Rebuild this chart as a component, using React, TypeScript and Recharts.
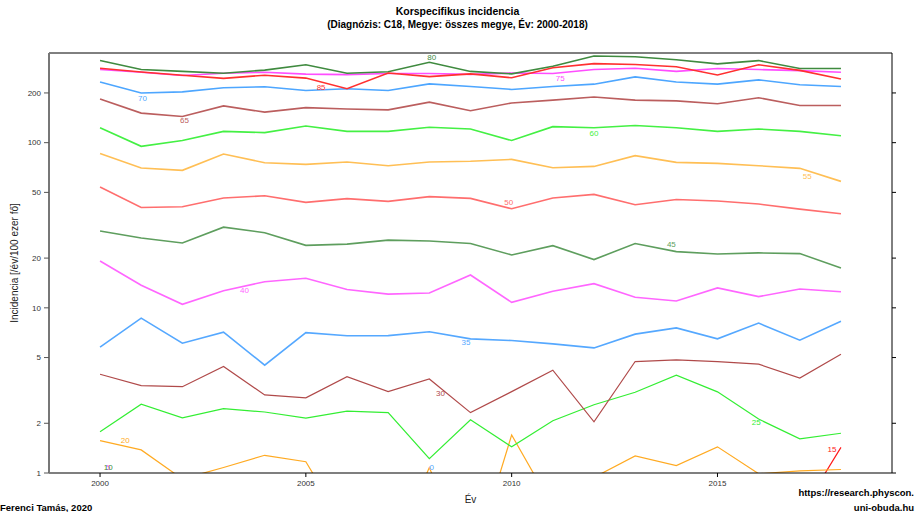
import React from 'react';
import { LineChart, Line, XAxis, YAxis, ReferenceDot } from 'recharts';

// Years shown on the x axis
const years = [2000, 2001, 2002, 2003, 2004, 2005, 2006, 2007, 2008, 2009, 2010, 2011, 2012, 2013, 2014, 2015, 2016, 2017, 2018];

// Incidence per age group (/year/100k)
const g0 = [0.08, 0.05, 0.06, 0.09, 0.05, 0.07, 0.06, 0.05, 0.08, 0.06, 0.07, 0.05, 0.06, 0.08, 0.05, 0.07, 0.06, 0.05, 0.06];
const g5 = [0.06, 0.08, 0.05, 0.07, 0.06, 0.09, 0.05, 0.07, 0.06, 0.08, 0.05, 0.06, 0.09, 0.05, 0.07, 0.06, 0.08, 0.07, 0.05];
const g10 = [0.18, 0.12, 0.15, 0.2, 0.14, 0.11, 0.17, 0.13, 0.16, 0.19, 0.12, 0.15, 0.18, 0.14, 0.16, 0.21, 0.13, 0.17, 0.15];
const g15 = [0.62, 0.48, 0.71, 0.55, 0.64, 0.42, 0.58, 0.69, 0.51, 0.47, 0.66, 0.73, 0.52, 0.61, 0.75, 0.57, 0.68, 0.56, 1.43];
const g20 = [1.57, 1.38, 0.92, 1.08, 1.28, 1.17, 0.45, 0.29, 1.08, 0.26, 1.7, 0.62, 0.94, 1.27, 1.11, 1.44, 0.99, 1.03, 1.05];
const g25 = [1.78, 2.61, 2.16, 2.45, 2.34, 2.15, 2.37, 2.32, 1.22, 2.1, 1.44, 2.07, 2.59, 3.08, 3.91, 3.1, 2.12, 1.61, 1.74];
const g30 = [3.96, 3.38, 3.33, 4.41, 2.97, 2.85, 3.83, 3.11, 3.71, 2.32, 3.11, 4.19, 2.04, 4.73, 4.84, 4.73, 4.56, 3.76, 5.24];
const g35 = [5.78, 8.66, 6.11, 7.12, 4.5, 7.08, 6.77, 6.79, 7.16, 6.49, 6.34, 6.05, 5.72, 6.93, 7.56, 6.49, 8.08, 6.37, 8.3];
const g40 = [19.2, 13.7, 10.5, 12.7, 14.4, 15.1, 12.9, 12.1, 12.3, 15.8, 10.8, 12.6, 14.0, 11.6, 11.0, 13.2, 11.7, 13.0, 12.5];
const g45 = [29.2, 26.5, 24.7, 30.8, 28.5, 23.9, 24.3, 25.7, 25.4, 24.5, 20.9, 23.8, 19.6, 24.5, 21.9, 21.2, 21.5, 21.3, 17.4];
const g50 = [53.9, 40.5, 40.9, 46.2, 47.7, 43.5, 45.8, 44.1, 47.1, 46.0, 39.8, 46.2, 48.6, 42.1, 45.3, 44.3, 42.5, 39.6, 37.1];
const g55 = [86.1, 70.3, 68.0, 85.4, 75.6, 73.9, 76.4, 72.5, 76.4, 77.1, 79.2, 70.5, 71.8, 83.4, 76.0, 74.9, 72.5, 69.9, 58.3];
const g60 = [123, 95, 103, 117, 115, 126, 117, 117, 124, 121, 103, 125, 123, 127, 123, 117, 121, 117, 110];
const g65 = [184, 151, 144, 167, 153, 163, 160, 158, 176, 156, 174, 181, 189, 181, 179, 172, 187, 168, 168];
const g70 = [233, 200, 203, 215, 218, 207, 212, 207, 227, 219, 210, 219, 226, 250, 233, 226, 240, 224, 219];
const g75 = [277, 267, 255, 263, 267, 260, 258, 262, 262, 259, 264, 262, 277, 282, 270, 281, 277, 273, 267];
const g80 = [314, 277, 270, 263, 275, 296, 263, 269, 307, 270, 261, 290, 335, 331, 318, 300, 314, 281, 281];
const g85 = [282, 268, 256, 245, 256, 246, 212, 264, 251, 261, 247, 284, 301, 297, 288, 257, 296, 274, 243];

const ageGroups = ['0', '5', '10', '15', '20', '25', '30', '35', '40', '45', '50', '55', '60', '65', '70', '75', '80', '85'];
const groupValues = [g0, g5, g10, g15, g20, g25, g30, g35, g40, g45, g50, g55, g60, g65, g70, g75, g80, g85];

// Where each group's direct label sits (year, incidence)
const labelYears = [2008.06, 2000.2, 2000.2, 2017.78, 2000.61, 2015.94, 2008.27, 2008.89, 2003.51, 2013.88, 2009.93, 2017.18, 2012.0, 2002.05, 2001.03, 2011.18, 2008.06, 2005.37];
const labelValues = [1.087, 1.087, 1.087, 1.397, 1.57, 2.01, 3.05, 6.17, 12.7, 24.2, 43.5, 62.4, 114, 136, 185, 246, 330, 216];

const yTicks = [1, 2, 5, 10, 20, 50, 100, 200];
const xTicks = [2000, 2005, 2010, 2015];

const colors = [
  '#4da6ff', '#ff55ff', '#3a8f3a', '#ff1a1a', '#ffaa22', '#33ee33', '#b04a4a',
  '#55a8ff', '#ff66ff', '#5e9e5e', '#ff6e6e', '#ffbf55', '#44f044', '#bb5e5e',
  '#4da6ff', '#ff4dff', '#3f8a3f', '#ff3030',
];

const data = years.map((year, i) => {
  const row: Record<string, number> = { year };
  ageGroups.forEach((g, k) => {
    row[`a${g}`] = groupValues[k][i];
  });
  return row;
});

const FONT = '"Liberation Sans", Arial, Helvetica, sans-serif';
const X_DOMAIN: [number, number] = [1998.76, 2019.24];
const Y_DOMAIN: [number, number] = [1, 349];

export default function App() {
  return (
    <div style={{ position: 'absolute', left: 0, top: 0, width: 915, height: 512, background: '#fff', fontFamily: FONT, overflow: 'hidden' }}>
      <LineChart width={915} height={512} data={data} margin={{ top: 0, right: 0, bottom: 0, left: 0 }}>
        <XAxis
          dataKey="year"
          type="number"
          domain={X_DOMAIN}
          allowDataOverflow
          ticks={xTicks}
          height={39}
          tickSize={4}
          tickMargin={3}
          axisLine={{ stroke: '#000', strokeWidth: 1.2 }}
          tickLine={{ stroke: '#000' }}
          tick={{ fontSize: 8, fill: '#333', fontFamily: FONT }}
        />
        <XAxis
          xAxisId="top"
          orientation="top"
          type="number"
          domain={X_DOMAIN}
          allowDataOverflow
          ticks={xTicks}
          height={53}
          tickSize={4}
          tickFormatter={() => ''}
          axisLine={{ stroke: '#000', strokeWidth: 1 }}
          tickLine={{ stroke: '#000' }}
        />
        <YAxis
          scale="log"
          type="number"
          domain={Y_DOMAIN}
          allowDataOverflow
          ticks={yTicks}
          width={49}
          tickSize={5}
          tickMargin={3}
          axisLine={{ stroke: '#777', strokeWidth: 2 }}
          tickLine={{ stroke: '#555' }}
          tick={{ fontSize: 8, fill: '#333', fontFamily: FONT }}
        />
        <YAxis
          yAxisId="right"
          orientation="right"
          scale="log"
          type="number"
          domain={Y_DOMAIN}
          allowDataOverflow
          ticks={yTicks}
          width={23}
          tickSize={4}
          tickFormatter={() => ''}
          axisLine={{ stroke: '#000', strokeWidth: 1 }}
          tickLine={{ stroke: '#000' }}
        />
        {ageGroups.map((g, k) => (
          <Line
            key={g}
            type="linear"
            dataKey={`a${g}`}
            stroke={colors[k]}
            strokeWidth={k < 7 ? 1.2 : 1.6}
            dot={false}
            activeDot={false}
            isAnimationActive={false}
          />
        ))}
        {ageGroups.map((g, k) => (
          <ReferenceDot
            key={`lbl${g}`}
            x={labelYears[k]}
            y={labelValues[k]}
            r={0}
            shape={(p: any) => (
              <text
                x={p.cx}
                y={p.cy}
                fill={colors[k]}
                fontSize={8}
                fontFamily={FONT}
                textAnchor="middle"
                dominantBaseline="central"
              >
                {g}
              </text>
            )}
          />
        ))}
      </LineChart>

      <div style={{ position: 'absolute', left: 0, top: 5, width: 915, textAlign: 'center', fontSize: 10.5, fontWeight: 'bold', lineHeight: '13px' }}>
        Korspecifikus incidencia
      </div>
      <div style={{ position: 'absolute', left: 0, top: 18, width: 915, textAlign: 'center', fontSize: 10, fontWeight: 'bold', lineHeight: '13px' }}>
        (Diagnózis: C18, Megye: összes megye, Év: 2000-2018)
      </div>
      <div style={{ position: 'absolute', left: 49, top: 493, width: 843, textAlign: 'center', fontSize: 10, lineHeight: '14px', color: '#222' }}>
        Év
      </div>
      <div
        style={{
          position: 'absolute',
          left: 15 - 100,
          top: 263 - 7,
          width: 200,
          textAlign: 'center',
          fontSize: 10,
          lineHeight: '14px',
          color: '#222',
          transform: 'rotate(-90deg)',
        }}
      >
        Incidencia [/év/100 ezer fő]
      </div>
      <div style={{ position: 'absolute', left: 0, top: 502, fontSize: 9.5, fontWeight: 'bold', lineHeight: '12px', whiteSpace: 'nowrap' }}>
        Ferenci Tamás, 2020
      </div>
      <div style={{ position: 'absolute', right: 1, top: 486, fontSize: 9.5, fontWeight: 'bold', lineHeight: '13px', textAlign: 'right', whiteSpace: 'nowrap' }}>
        https://research.physcon.
        <br />
        <span style={{ position: 'relative', top: 2 }}>uni-obuda.hu</span>
      </div>
    </div>
  );
}
